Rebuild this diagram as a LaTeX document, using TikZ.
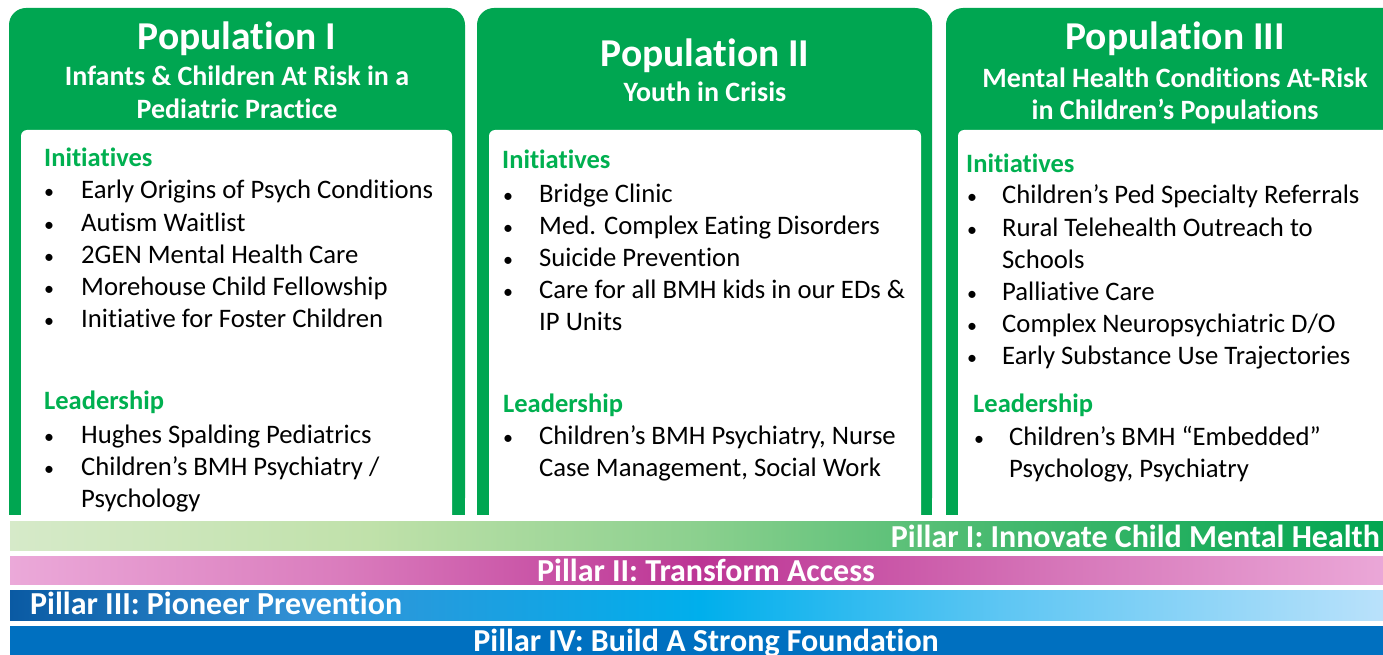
\documentclass[tikz,border=0pt]{standalone}
\usepackage{fontspec}
\setmainfont{Carlito}[Ligatures=NoCommon]
\usepackage{tikz}

\definecolor{popgreen}{HTML}{00A651}
\definecolor{labelgreen}{HTML}{00B050}
\definecolor{pillarblue}{HTML}{0070C0}

% colours along the pillars
\definecolor{pia}{HTML}{D6EAC9} \definecolor{pib}{HTML}{C0E1AA} \definecolor{pic}{HTML}{8BD08E}
\definecolor{pid}{HTML}{45B96E} \definecolor{pie}{HTML}{00A550}
\definecolor{piia}{HTML}{EBA9D9} \definecolor{piib}{HTML}{DA7CBD} \definecolor{piic}{HTML}{BC3494}
\definecolor{piid}{HTML}{D676B9} \definecolor{piie}{HTML}{EBA8D8}
\definecolor{piiia}{HTML}{0A5AA3} \definecolor{piiib}{HTML}{3393D7} \definecolor{piiic}{HTML}{00AFEC}
\definecolor{piiid}{HTML}{5EC6F3} \definecolor{piiie}{HTML}{BBE2FB}

% pillar shadings (25bp = left end of a bar, 75bp = right end)
\pgfdeclarehorizontalshading{pillarone}{100bp}{%
  color(0bp)=(pia); color(25bp)=(pia); color(38bp)=(pib); color(50bp)=(pic);
  color(61bp)=(pid); color(75bp)=(pie); color(100bp)=(pie)}
\pgfdeclarehorizontalshading{pillartwo}{100bp}{%
  color(0bp)=(piia); color(25bp)=(piia); color(37bp)=(piib); color(50bp)=(piic);
  color(63bp)=(piid); color(75bp)=(piie); color(100bp)=(piie)}
\pgfdeclarehorizontalshading{pillarthree}{100bp}{%
  color(0bp)=(piiia); color(25bp)=(piiia); color(36bp)=(piiib); color(50bp)=(piiic);
  color(61bp)=(piiid); color(75bp)=(piiie); color(100bp)=(piiie)}

\tikzset{poptitle/.style={font=\bfseries\fontsize{39.5}{44}\selectfont, text=white,
                          anchor=base, inner sep=0pt},
         popsub/.style  ={font=\bfseries\fontsize{28}{32}\selectfont, text=white,
                          anchor=base, inner sep=0pt},
         heading/.style ={font=\bfseries\fontsize{26.5}{32}\selectfont, text=labelgreen,
                          anchor=base west, inner sep=0pt},
         item/.style    ={font=\fontsize{26.7}{32}\selectfont, text=black,
                          anchor=base west, inner sep=0pt},
         dot/.style     ={font=\fontsize{20}{32}\selectfont, text=black,
                          anchor=base, inner sep=0pt},
         pillar/.style  ={font=\bfseries\fontsize{32}{36}\selectfont, text=white,
                          inner sep=0pt}
        }

\begin{document}
\begin{tikzpicture}[x=1pt, y=-1pt]

\def\ytop{8}
\def\yhead{130}
\def\ybot{515}
\def\rad{17}

\def\xla{9}    \def\xra{465}   \def\wla{21}   \def\wra{452}
\def\xlb{477}  \def\xrb{932}   \def\wlb{489}  \def\wrb{921}
\def\xlc{946}  \def\xrc{1400}  \def\wlc{958}  \def\wrc{1395}

\useasboundingbox (0,0) rectangle (1383,655);
\fill[white] (0,0) rectangle (1383,655);

%green frames of the three populations
\foreach \xl/\xr/\wl/\wr in {\xla/\xra/\wla/\wra, \xlb/\xrb/\wlb/\wrb, \xlc/\xrc/\wlc/\wrc}
{
  \fill[popgreen, rounded corners=\rad] (\xl,\ytop) rectangle (\xr,\ybot);
  \fill[popgreen] (\xl,\ybot-40) rectangle (\xr,\ybot);
  \fill[white, rounded corners=6] (\wl,\yhead) rectangle (\wr,545);
}

%Population I
\node[poptitle] (popone)    at (237, 50) {Population I};
\node[popsub]   (poponeA)   at (237, 86) {Infants \& Children At Risk in a};
\node[popsub]   (poponeB)   at (237,119) {Pediatric Practice};
\node[heading]  (initone)   at ( 44,167) {Initiatives};
\foreach \yy/\txt in {199/Early Origins of Psych Conditions, 231/Autism Waitlist,
                      263/2GEN Mental Health Care, 295/Morehouse Child Fellowship,
                      327/Initiative for Foster Children}
{
  \node[dot]  (bulone\yy) at (49,\yy) {•};
  \node[item] (itone\yy)  at (81,\yy) {\txt};
}
\node[heading]  (leadone)   at ( 44,409) {Leadership};
\foreach \yy/\txt in {443/Hughes Spalding Pediatrics, 475/{Children’s BMH Psychiatry /}}
{
  \node[dot]  (bulone\yy) at (49,\yy) {•};
  \node[item] (itone\yy)  at (81,\yy) {\txt};
}
\node[item] (itone507) at (81,507) {Psychology};

%Population II
\node[poptitle] (poptwo)    at (705, 67) {Population II};
\node[popsub]   (poptwoA)   at (705,102) {Youth in Crisis};
\node[heading]  (inittwo)   at (502,169) {Initiatives};
\foreach \yy/\txt in {202/Bridge Clinic, 234/Med. Complex Eating Disorders,
                      266/Suicide Prevention, 298/Care for all BMH kids in our EDs \&}
{
  \node[dot]  (bultwo\yy) at (508,\yy) {•};
  \node[item] (ittwo\yy)  at (539,\yy) {\txt};
}
\node[item] (ittwo330) at (539,330) {IP Units};
\node[heading]  (leadtwo)   at (503,412) {Leadership};
\node[dot]  (bultwo444) at (508,444) {•};
\node[item] (ittwo444)  at (539,444) {Children’s BMH Psychiatry, Nurse};
\node[item] (ittwo476)  at (539,476) {Case Management, Social Work};

%Population III
\node[poptitle] (popthree)  at (1175, 50) {Population III};
\node[popsub]   (popthreeA) at (1175, 88) {Mental Health Conditions At-Risk};
\node[popsub]   (popthreeB) at (1175,120) {in Children’s Populations};
\node[heading]  (initthree) at ( 966,173) {Initiatives};
\foreach \yy/\txt in {204/Children’s Ped Specialty Referrals,
                      236/Rural Telehealth Outreach to, 300/Palliative Care,
                      332/{Complex Neuropsychiatric D/O}, 364/Early Substance Use Trajectories}
{
  \node[dot]  (bulthree\yy) at (972,\yy) {•};
  \node[item] (itthree\yy)  at (1002,\yy) {\txt};
}
\node[item] (itthree268) at (1002,268) {Schools};
\node[heading]  (leadthree) at ( 973,412) {Leadership};
\node[dot]  (bulthree445) at (979,445) {•};
\node[item] (itthree445)  at (1009,445) {Children’s BMH “Embedded”};
\node[item] (itthree477)  at (1009,477) {Psychology, Psychiatry};

%pillars
\fill[shading=pillarone]   (10,521) rectangle (1390,550);
\fill[shading=pillartwo]   (10,556) rectangle (1390,584);
\fill[shading=pillarthree] (10,590) rectangle (1390,620);
\fill[pillarblue]          (10,626) rectangle (1390,660);

\node[pillar, anchor=base east] (pillarone)   at (1380,547) {Pillar I: Innovate Child Mental Health};
\node[pillar, anchor=base]      (pillartwo)   at ( 706,581) {Pillar II: Transform Access};
\node[pillar, anchor=base west] (pillarthree) at (  30,614) {Pillar III: Pioneer Prevention};
\node[pillar, anchor=base]      (pillarfour)  at ( 706,651) {Pillar IV: Build A Strong Foundation};

\end{tikzpicture}
\end{document}
